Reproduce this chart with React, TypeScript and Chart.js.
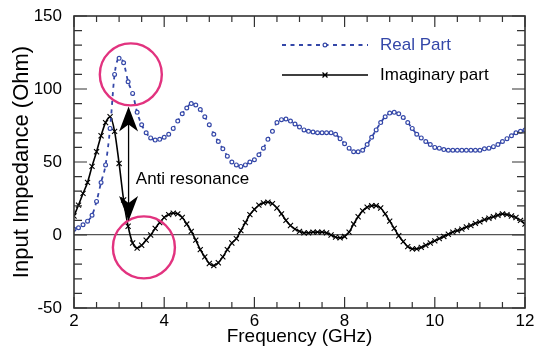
import { useEffect, useRef } from "react";
import { Chart, registerables } from "chart.js";

Chart.register(...registerables);

// Sampling grid (GHz), 0.1 GHz step from 2 to 12
const freqGHz: number[] = Array.from({ length: 101 }, (_, i) => Math.round(20 + i) / 10);

// Real part of the input impedance (Ohm)
const realPart: number[] = [
  4, 5, 7, 9.5, 13.5, 23, 36, 48, 73, 110,
  121, 118, 105, 97, 84, 75.5, 70, 66.5, 65, 65.5,
  67, 69, 73, 78, 83, 87, 90, 89, 86, 81,
  75.5, 69, 64, 59, 54, 50, 48, 47, 48, 50,
  51.5, 55, 59.5, 65.5, 71, 77, 79, 79.5, 78, 76,
  74, 72, 71, 70.5, 70, 70, 70, 70, 69, 66,
  62.5, 59.5, 57, 57, 58, 62, 67, 72, 77, 81,
  83.5, 84, 83, 80.5, 77, 73, 69, 66.5, 64, 62,
  60, 59.5, 58.5, 58, 58, 58, 58, 58, 58, 58,
  58, 59, 59.5, 60.5, 62, 64, 66, 68, 70, 71,
  72,
];

// Imaginary part of the input impedance (Ohm)
const imagPart: number[] = [
  13, 20.5, 28.5, 36, 47, 57, 68, 77, 81, 71,
  49, 24, 6, -5.5, -9, -7, -3.5, 0, 4.5, 8.5,
  12, 14, 15, 14.5, 12, 7.5, 2.5, -3.5, -10, -15,
  -19.5, -21, -19, -15, -10, -5.5, -2.5, 3, 8.5, 14,
  17.5, 20.5, 22, 22.5, 21.5, 18.5, 14.5, 10, 6.5, 4,
  2.5, 1.5, 1.5, 2, 2, 2, 1.5, 0, -1.5, -2,
  -1, 2, 7.5, 12.5, 16.5, 19, 20, 20, 18.5, 14.5,
  9.5, 4.5, -0.5, -4.5, -8, -9.5, -9.5, -8.5, -7, -5.5,
  -4, -2.5, -1, 0.5, 2, 3, 4, 5.5, 6.5, 8,
  9, 10.5, 11.5, 12.5, 13.5, 14.5, 14, 13, 12, 10,
  7.5,
];

const seriesNames: string[] = ["Real Part", "Imaginary part"];
const noteText = "Anti resonance";

const REAL_BLUE = "#3447a8";
const NOTE_PINK = "#e2337f";
const FRAME = "#333333";
const FONT = "'Liberation Sans', Arial, Helvetica, sans-serif";

// Frame with inward major/minor ticks on all four sides
const frameTicks = {
  id: "frameTicks",
  afterDatasetsDraw(chart: any) {
    const { ctx, chartArea: a, scales } = chart;
    const x = scales.x;
    const y = scales.y;
    ctx.save();
    ctx.strokeStyle = FRAME;
    ctx.lineWidth = 1.2;
    ctx.beginPath();
    for (let k = 0; k <= 20; k++) {
      const f = 2 + k * 0.5;
      const px = x.getPixelForValue(f);
      const len = k % 4 === 0 ? 11 : 6;
      ctx.moveTo(px, a.bottom);
      ctx.lineTo(px, a.bottom - len);
      ctx.moveTo(px, a.top);
      ctx.lineTo(px, a.top + len);
    }
    for (let k = 0; k <= 20; k++) {
      const v = -50 + k * 10;
      const py = y.getPixelForValue(v);
      const len = k % 5 === 0 ? 13 : 8;
      ctx.moveTo(a.left, py);
      ctx.lineTo(a.left + len, py);
      ctx.moveTo(a.right, py);
      ctx.lineTo(a.right - len, py);
    }
    ctx.stroke();
    ctx.lineWidth = 1.6;
    ctx.strokeRect(a.left, a.top, a.right - a.left, a.bottom - a.top);
    ctx.restore();
  },
};

// Legend block in the upper right of the plot
const insetLegend = {
  id: "insetLegend",
  afterDraw(chart: any) {
    const { ctx, chartArea: a } = chart;
    const x0 = a.left + 208;
    const x1 = a.left + 294;
    const rows = [a.top + 29, a.top + 59];
    ctx.save();
    ctx.font = `17px ${FONT}`;
    ctx.textBaseline = "middle";
    ctx.textAlign = "left";

    // Real part sample
    ctx.strokeStyle = REAL_BLUE;
    ctx.lineWidth = 1.8;
    ctx.setLineDash([4, 4.5]);
    ctx.beginPath();
    ctx.moveTo(x0, rows[0]);
    ctx.lineTo(x1, rows[0]);
    ctx.stroke();
    ctx.setLineDash([]);
    ctx.lineWidth = 1.2;
    ctx.fillStyle = "#fff";
    ctx.beginPath();
    ctx.arc((x0 + x1) / 2, rows[0], 1.9, 0, Math.PI * 2);
    ctx.fill();
    ctx.stroke();
    ctx.fillStyle = REAL_BLUE;
    ctx.fillText(seriesNames[0], x1 + 12, rows[0]);

    // Imaginary part sample
    ctx.strokeStyle = "#000";
    ctx.lineWidth = 1.3;
    ctx.beginPath();
    ctx.moveTo(x0, rows[1]);
    ctx.lineTo(x1, rows[1]);
    const cx = (x0 + x1) / 2;
    const r = 2.5;
    ctx.moveTo(cx - r, rows[1] - r);
    ctx.lineTo(cx + r, rows[1] + r);
    ctx.moveTo(cx - r, rows[1] + r);
    ctx.lineTo(cx + r, rows[1] - r);
    ctx.stroke();
    ctx.fillStyle = "#000";
    ctx.fillText(seriesNames[1], x1 + 12, rows[1]);
    ctx.restore();
  },
};

// Resonance markers: two circles, a double arrow and its caption
const resonanceNotes = {
  id: "resonanceNotes",
  afterDatasetsDraw(chart: any) {
    const { ctx, scales } = chart;
    const x = scales.x;
    const y = scales.y;
    ctx.save();

    ctx.strokeStyle = NOTE_PINK;
    ctx.lineWidth = 2.4;
    ctx.beginPath();
    ctx.arc(x.getPixelForValue(3.26), y.getPixelForValue(110), 31, 0, Math.PI * 2);
    ctx.stroke();
    ctx.beginPath();
    ctx.arc(x.getPixelForValue(3.55), y.getPixelForValue(-8.5), 31, 0, Math.PI * 2);
    ctx.stroke();

    const ax = x.getPixelForValue(3.21);
    const topTip = y.getPixelForValue(88);
    const botTip = y.getPixelForValue(9.6);
    ctx.strokeStyle = "#000";
    ctx.lineWidth = 1.3;
    ctx.beginPath();
    ctx.moveTo(ax, topTip + 15);
    ctx.lineTo(ax, botTip - 15);
    ctx.stroke();

    ctx.fillStyle = "#000";
    const head = (tip: number, dir: number) => {
      ctx.beginPath();
      ctx.moveTo(ax, tip);
      ctx.lineTo(ax + 9.5, tip + dir * 25);
      ctx.lineTo(ax, tip + dir * 18);
      ctx.lineTo(ax - 9.5, tip + dir * 25);
      ctx.closePath();
      ctx.fill();
    };
    head(topTip, 1);
    head(botTip, -1);

    ctx.font = `17px ${FONT}`;
    ctx.textAlign = "left";
    ctx.textBaseline = "middle";
    ctx.fillText(noteText, x.getPixelForValue(3.37), y.getPixelForValue(38));
    ctx.restore();
  },
};

export default function App() {
  const canvasRef = useRef<HTMLCanvasElement | null>(null);

  useEffect(() => {
    if (!canvasRef.current) return;
    Chart.defaults.font.family = FONT;
    Chart.defaults.color = "#000";

    const chart = new Chart(canvasRef.current, {
      type: "line",
      data: {
        datasets: [
          {
            label: seriesNames[0],
            data: freqGHz.map((f, i) => ({ x: f, y: realPart[i] })),
            borderColor: REAL_BLUE,
            borderWidth: 1.8,
            borderDash: [4, 4.5],
            pointStyle: "circle",
            pointRadius: 1.9,
            pointBorderWidth: 1.2,
            pointBackgroundColor: "#ffffff",
            pointBorderColor: REAL_BLUE,
            cubicInterpolationMode: "monotone",
          },
          {
            label: seriesNames[1],
            data: freqGHz.map((f, i) => ({ x: f, y: imagPart[i] })),
            borderColor: "#000000",
            borderWidth: 1.6,
            pointStyle: "crossRot",
            pointRadius: 3.6,
            pointBorderWidth: 1.1,
            pointBorderColor: "#000000",
            cubicInterpolationMode: "monotone",
          },
        ],
      },
      options: {
        animation: false,
        responsive: false,
        events: [],
        layout: { padding: { left: 0, right: 19, top: 16, bottom: 0 } },
        plugins: {
          legend: { display: false },
          tooltip: { enabled: false },
        },
        scales: {
          x: {
            type: "linear",
            min: 2,
            max: 12,
            ticks: { stepSize: 2, color: "#000", font: { size: 17 }, padding: 3, maxRotation: 0 },
            grid: { display: false, drawTicks: false },
            border: { display: false },
            title: {
              display: true,
              text: "Frequency (GHz)",
              color: "#000",
              font: { size: 19 },
              padding: { top: 0, bottom: 12 },
            },
            afterFit: (s: any) => {
              s.height = 52;
              s.paddingLeft = 0;
              s.paddingRight = 0;
            },
          },
          y: {
            type: "linear",
            min: -50,
            max: 150,
            ticks: { stepSize: 50, color: "#000", font: { size: 17 }, padding: 12 },
            grid: {
              drawTicks: false,
              lineWidth: 1.3,
              color: (c: any) => (c.tick && c.tick.value === 0 ? "#555555" : "rgba(0,0,0,0)"),
            },
            border: { display: false },
            title: {
              display: true,
              text: "Input Impedance (Ohm)",
              color: "#000",
              font: { size: 22 },
              padding: { top: 9, bottom: 0 },
            },
            afterFit: (s: any) => {
              s.width = 74;
              s.paddingTop = 0;
              s.paddingBottom = 0;
            },
          },
        },
      },
      plugins: [frameTicks, resonanceNotes, insetLegend],
    });

    return () => chart.destroy();
  }, []);

  return (
    <div style={{ position: "fixed", left: 0, top: 0, width: 544, height: 360, background: "#fff" }}>
      <canvas ref={canvasRef} width={544} height={360} />
    </div>
  );
}
